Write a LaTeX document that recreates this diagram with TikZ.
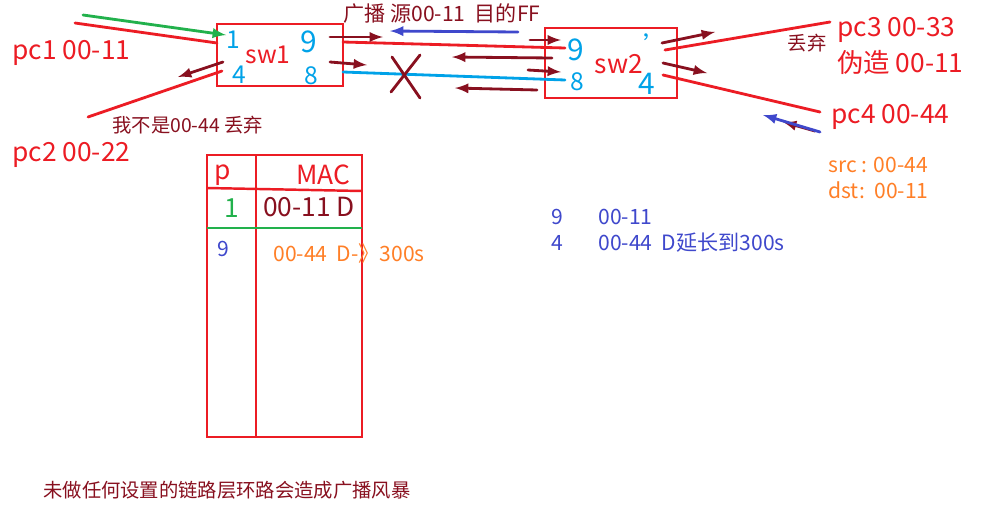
\documentclass[tikz,border=0pt]{standalone}
\usepackage{fontspec}
\setmainfont{Noto Sans CJK SC}
\usetikzlibrary{arrows,positioning}
\definecolor{penred}{HTML}{EC1C24}
\definecolor{pendark}{HTML}{88101F}
\definecolor{pengreen}{HTML}{22B14C}
\definecolor{penblue}{HTML}{3F48CC}
\definecolor{pencyan}{HTML}{00A2E8}
\definecolor{penorange}{HTML}{FF7F27}

\begin{document}
\begin{tikzpicture}[x=0.02cm,y=-0.02cm,
            txt/.style={inner sep=0,anchor=west},
            big/.style={font=\fontsize{15}{18}\selectfont},
            mid/.style={font=\fontsize{12}{15}\selectfont},
            small/.style={font=\fontsize{11}{14}\selectfont},
            port/.style={inner sep=0,text=pencyan,font=\fontsize{14}{16}\selectfont},
            swbox/.style={draw=penred,line width=1.4pt,inner sep=0},
            wire/.style={line width=1.6pt,line cap=round},
            arr/.style={wire,->,>=latex,pendark}
          ]
          \useasboundingbox[fill=white] (0,0) rectangle (998,514);

          %switches
          \node[swbox,minimum width=2.52cm,minimum height=1.24cm] (sw1) at (280,55) {};
          \node[swbox,minimum width=2.64cm,minimum height=1.4cm] (sw2) at (611,63) {};
          \node[inner sep=0,text=penred,font=\fontsize{14}{16}\selectfont] (sw1lab) at (268,55) {sw1};
          \node[big,text=penred] (sw2lab) at (619,64) {sw2};

          %ports
          \node[port] (p11) at (233,40) {1};
          \node[port] (p14) at (239,75) {4};
          \node[port,font=\fontsize{17}{20}\selectfont] (p19) at (309,42) {9};
          \node[port] (p18) at (311,76) {8};
          \node[port,font=\fontsize{17}{20}\selectfont] (p29) at (576,50) {9};
          \node[port] (p28) at (577,82) {8};
          \node[port] (p21) at (656,44) {'};
          \node[port,font=\fontsize{17}{20}\selectfont] (p24) at (647,84) {4};

          %hosts
          \node[txt,big,text=penred] (pc1) at (12,53) {pc1 00-11};
          \node[txt,big,text=penred] (pc2) at (12,155) {pc2 00-22};
          \node[txt,big,text=penred] (pc3) at (837,30) {pc3 00-33};
          \node[txt,big,text=penred] (fake) at (837,62) {伪造 00-11};
          \node[txt,big,text=penred] (pc4) at (831,117) {pc4 00-44};

          %notes
          \node[txt,small,text=pendark] (drop1) at (112,125) {我不是00-44 丢弃};
          \node[txt,mid,text=pendark] (bcast) at (343,14) {广播 源00-11\ \ 目的FF};
          \node[small,text=pendark] (drop3) at (807,43) {丢弃};
          \node[txt,mid,text=penorange] (src) at (828,165) {src : 00-44};
          \node[txt,mid,text=penorange] (dst) at (828,190) {dst:\ \ 00-11};
          \node[txt,small,text=pendark] (storm) at (43,490) {未做任何设置的链路层环路会造成广播风暴};

          %mac table of sw2
          \node[mid,text=penblue] (t9) at (557,217) {9};
          \node[txt,mid,text=penblue] (t9mac) at (598,217) {00-11};
          \node[mid,text=penblue] (t4) at (557,243) {4};
          \node[txt,mid,text=penblue] (t4mac) at (598,243) {00-44\ \ D延长到300s};

          %mac table of sw1
          \draw[penred,line width=1.4pt] (207,155) rectangle (362,437);
          \draw[penred,line width=1.4pt] (256,155) -- (256,437);
          \draw[penred,line width=1.4pt] (207,188) -- (362,191);
          \draw[pengreen,line width=1.4pt] (207,228) -- (362,228);
          \node[big,text=penred] (hp) at (223,175) {p};
          \node[big,text=penred] (hmac) at (323,175) {MAC};
          \node[big,text=pengreen] (r1p) at (232,208) {1};
          \node[big,text=pendark] (r1mac) at (309,207) {00-11 D};
          \node[mid,text=penblue] (r2p) at (223,249) {9};
          \node[txt,mid,text=penorange] (r2mac) at (273,253) {00-44\ \ D-》300s};

          %end points
          \coordinate (g1) at (83,15);   \coordinate (g2) at (226,35);
          \coordinate (a1) at (75,23);   \coordinate (a2) at (217,43);
          \coordinate (b1) at (88,117);  \coordinate (b2) at (222,71);
          \coordinate (c1) at (223,62);  \coordinate (c2) at (178,77);
          \coordinate (u1) at (518,32);  \coordinate (u2) at (390,31);
          \coordinate (d1) at (330,37);  \coordinate (d2) at (383,37);
          \coordinate (d3) at (530,40);  \coordinate (d4) at (561,40);
          \coordinate (d5) at (552,58);  \coordinate (d6) at (452,57);
          \coordinate (d7) at (330,62);  \coordinate (d8) at (367,65);
          \coordinate (d9) at (528,70);  \coordinate (d10) at (561,72);
          \coordinate (d11) at (537,90); \coordinate (d12) at (455,88);
          \coordinate (l1) at (343,42);  \coordinate (l2) at (565,48);
          \coordinate (m1) at (343,72);  \coordinate (m2) at (565,80);
          \coordinate (x1) at (392,57);  \coordinate (x2) at (420,98);
          \coordinate (x3) at (420,55);  \coordinate (x4) at (391,92);
          \coordinate (e1) at (662,43);  \coordinate (e2) at (715,32);
          \coordinate (r1) at (665,50);  \coordinate (r2) at (830,22);
          \coordinate (e3) at (663,63);  \coordinate (e4) at (707,73);
          \coordinate (r3) at (663,75);  \coordinate (r4) at (820,112);
          \coordinate (e5) at (815,131); \coordinate (e6) at (783,122);
          \coordinate (v1) at (820,132); \coordinate (v2) at (763,115);

          %links
          \draw[wire,penred] (a1) -- (a2);
          \draw[wire,penred] (b1) -- (b2);
          \draw[wire,penred] (l1) -- (l2);
          \draw[wire,pencyan] (m1) -- (m2);
          \draw[wire,penred] (r1) -- (r2);
          \draw[wire,penred] (r3) -- (r4);
          \draw[wire,pendark] (x1) -- (x2);
          \draw[wire,pendark] (x3) -- (x4);

          %frames
          \draw[arr,pengreen] (g1) -- (g2);
          \draw[arr,penblue] (u1) -- (u2);
          \path[arr]
          (c1) edge (c2)
          (d1) edge (d2)
          (d3) edge (d4)
          (d5) edge (d6)
          (d7) edge (d8)
          (d9) edge (d10)
          (d11) edge (d12)
          (e1) edge (e2)
          (e3) edge (e4)
          (e5) edge (e6)
          ;
          \draw[arr,penblue] (v1) -- (v2);

      \end{tikzpicture}
\end{document}
